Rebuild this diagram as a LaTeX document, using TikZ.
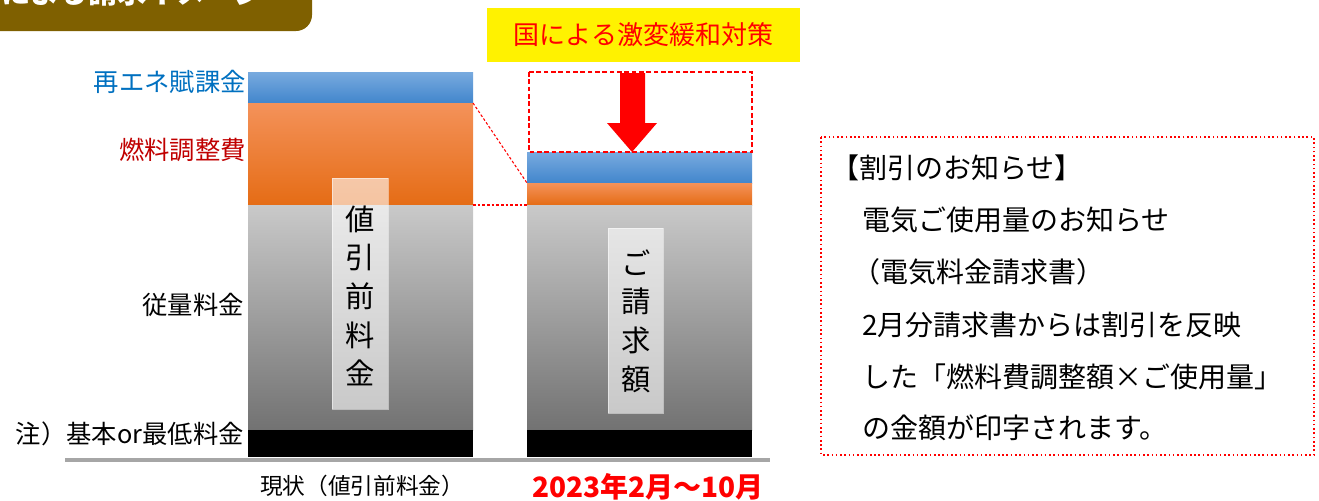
\documentclass[tikz,border=0pt]{standalone}
\usepackage{fontspec}
\setmainfont{Noto Sans CJK JP}
\usetikzlibrary{fit}
\definecolor{tabbrown}{HTML}{7F6000}
\definecolor{lblblue}{HTML}{0070C0}
\definecolor{lblred}{HTML}{C00000}
\definecolor{bluetop}{HTML}{78AADF}
\definecolor{bluebot}{HTML}{4286CC}
\definecolor{orgtop}{HTML}{F4925A}
\definecolor{orgbot}{HTML}{E56C15}
\definecolor{graytop}{HTML}{C9C9C9}
\definecolor{graybot}{HTML}{727272}
\definecolor{axisgray}{HTML}{A6A6A6}
\tikzset{
  seg/.style={inner sep=0pt, outer sep=0pt, draw=none},
  blueseg/.style={seg, top color=bluetop, bottom color=bluebot},
  orgseg/.style={seg, top color=orgtop, bottom color=orgbot},
  grayseg/.style={seg, top color=graytop, bottom color=graybot},
  blackseg/.style={seg, fill=black},
  vlabel/.style={fill=white, fill opacity=0.6, text opacity=1, draw=white, draw opacity=0.5, inner sep=0pt, outer sep=0pt},
  vtext/.style={font=\fontsize{22pt}{29pt}\selectfont, align=center, inner sep=0pt},
  sidelabel/.style={anchor=east, inner sep=0pt, font=\fontsize{19pt}{21pt}\selectfont},
  notetext/.style={anchor=west, inner sep=0pt, font=\fontsize{21pt}{24pt}\selectfont},
  link/.style={draw=red, dashed, dash pattern=on 2pt off 1.5pt, line width=0.8pt},
}
\begin{document}
\begin{tikzpicture}[x=0.75pt,y=-0.75pt]
\useasboundingbox (0,0) rectangle (1319,500);

% top-left tab
\fill[tabbrown, rounded corners=12pt] (-40,-40) rectangle (312,31);
\node[anchor=east, inner sep=0pt, text=white, font=\fontsize{22pt}{24pt}\selectfont\bfseries] (tab) at (264,-8) {による請求イメージ};

% yellow title
\node[fit={(487,8)(800,62)}, inner sep=0pt, fill=yellow] (ybox) {};
\node[text=red, font=\fontsize{19.5pt}{22pt}\selectfont] (ytext) at (ybox.center) {国による激変緩和対策};

% left bar
\node[blueseg, fit={(248,72)(473,103)}] (Lbl) {};
\node[orgseg, fit={(248,103)(473,205)}] (Lor) {};
\node[grayseg, fit={(248,205)(473,430)}] (Lgr) {};
\node[blackseg, fit={(248,430)(473,457)}] (Lbk) {};

% right bar
\node[blueseg, fit={(527,152)(752,183)}] (Rbl) {};
\node[orgseg, fit={(527,183)(752,205)}] (Ror) {};
\node[grayseg, fit={(527,205)(752,430)}] (Rgr) {};
\node[blackseg, fit={(527,430)(752,457)}] (Rbk) {};

% dashed region + arrow
\draw[red, dashed, dash pattern=on 3.5pt off 2pt, line width=1.3pt] (529,72) rectangle (752,152);
\fill[red] (620,73) -- (645,73) -- (645,123) -- (657,123) -- (632,152) -- (607,123) -- (620,123) -- cycle;

% links
\draw[link] (Lor.north east) -- (Ror.north west);
\draw[link] (Lor.south east) -- (Ror.south west);

% vertical labels
\node[vlabel, fit={(332,178)(388,409)}] (Lv) {};
\node[vtext] at (360,296) {値\\引\\前\\料\\金};
\node[vlabel, fit={(608,228)(663,413)}] (Rv) {};
\node[vtext] at (636,321) {ご\\請\\求\\額};

% axis
\draw[axisgray, line width=2.3pt] (65,460) -- (770,460);

% side labels
\node[sidelabel, text=lblblue] (l1) at (246,82) {再エネ賦課金};
\node[sidelabel, text=lblred] (l2) at (246,150) {燃料調整費};
\node[sidelabel] (l3) at (244,305) {従量料金};
\node[sidelabel] (l4) at (244,434) {注）基本or最低料金};

% bottom labels
\node[inner sep=0pt, font=\fontsize{17pt}{20pt}\selectfont] (b1) at (362,486) {現状（値引前料金）};
\node[inner sep=0pt, text=red, font=\fontsize{21pt}{24pt}\selectfont\bfseries] (b2) at (648,487) {2023年2月～10月};

% notice box
\draw[red, dotted, line width=1.2pt] (821,137) rectangle (1314,455);
\node[notetext] (t1) at (831,168) {【割引のお知らせ】};
\node[notetext] (t2) at (862,220) {電気ご使用量のお知らせ};
\node[notetext] (t3) at (852,272) {（電気料金請求書）};
\node[notetext] (t4) at (862,325) {2月分請求書からは割引を反映};
\node[notetext] (t5) at (862,377) {した「燃料費調整額×ご使用量」};
\node[notetext] (t6) at (862,428) {の金額が印字されます。};
\end{tikzpicture}
\end{document}
